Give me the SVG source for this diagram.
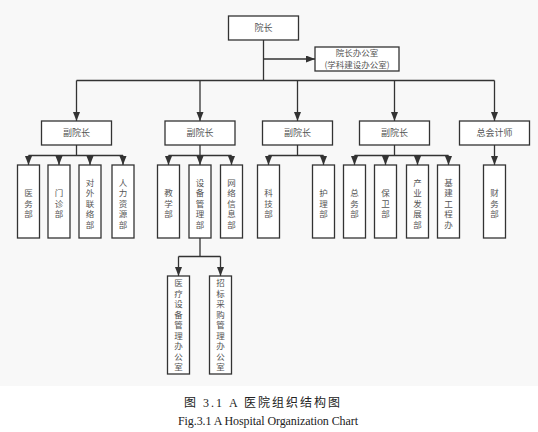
<svg xmlns="http://www.w3.org/2000/svg" width="538" height="432" viewBox="0 0 538 432">
<style>
.box{fill:#fff;stroke:#333;stroke-width:1.3}
.conn{fill:none;stroke:#333;stroke-width:1.3}
.lbl{font-family:"Noto Sans CJK SC","Noto Sans",sans-serif;font-size:9px;fill:#555;text-anchor:middle}
.v{font-size:8.5px}
.sm{font-size:8.5px}
.cap{font-family:"Liberation Serif","Noto Sans CJK SC",serif;font-size:12px;fill:#222;text-anchor:middle}
</style>
<defs>
<marker id="arr" markerUnits="userSpaceOnUse" markerWidth="9" markerHeight="8" refX="9" refY="3.5" orient="auto">
<path d="M0,0 L9,3.5 L0,7 z" fill="#333"/>
</marker>
</defs>
<rect x="0" y="0" width="538" height="386" fill="#f8f8f8"/>

<g id="connectors" class="conn">
<path d="M263.5,40 V80.5"/>
<path d="M263.5,59 H315" marker-end="url(#arr)"/>
<path d="M76.5,80.5 H494.5"/>
<path d="M76.5,80.5 V121" marker-end="url(#arr)"/>
<path d="M200,80.5 V121" marker-end="url(#arr)"/>
<path d="M297.5,80.5 V121" marker-end="url(#arr)"/>
<path d="M394.5,80.5 V121" marker-end="url(#arr)"/>
<path d="M494.5,80.5 V121" marker-end="url(#arr)"/>

<path d="M76.5,145 V155.5 M28.5,155.5 H123"/>
<path d="M28.5,155.5 V165" marker-end="url(#arr)"/>
<path d="M59,155.5 V165" marker-end="url(#arr)"/>
<path d="M90,155.5 V165" marker-end="url(#arr)"/>
<path d="M123,155.5 V165" marker-end="url(#arr)"/>

<path d="M200,145 V155.5 M168.5,155.5 H231.5"/>
<path d="M168.5,155.5 V165" marker-end="url(#arr)"/>
<path d="M200,155.5 V165" marker-end="url(#arr)"/>
<path d="M231.5,155.5 V165" marker-end="url(#arr)"/>

<path d="M297.5,145 V155.5 M268.5,155.5 H323.5"/>
<path d="M268.5,155.5 V165" marker-end="url(#arr)"/>
<path d="M323.5,155.5 V165" marker-end="url(#arr)"/>

<path d="M394.5,145 V155.5 M354.5,155.5 H448.5"/>
<path d="M354.5,155.5 V165" marker-end="url(#arr)"/>
<path d="M385.5,155.5 V165" marker-end="url(#arr)"/>
<path d="M417.5,155.5 V165" marker-end="url(#arr)"/>
<path d="M448.5,155.5 V165" marker-end="url(#arr)"/>

<path d="M494.5,145 V165" marker-end="url(#arr)"/>

<path d="M200,238 V256.5 M178.5,256.5 H220.5"/>
<path d="M178.5,256.5 V276" marker-end="url(#arr)"/>
<path d="M220.5,256.5 V276" marker-end="url(#arr)"/>
</g>

<g id="president"><rect class="box" x="228.5" y="16" width="70" height="24"/><text class="lbl" x="263.5" y="31.3">院长</text></g>
<g id="office"><rect class="box" x="315" y="47" width="84" height="24"/><text class="lbl sm" x="357" y="56">院长办公室</text><text class="lbl sm" x="357" y="67.5">(学科建设办公室)</text></g>

<g id="vp1"><rect class="box" x="41.5" y="121" width="70" height="24"/><text class="lbl" x="76.5" y="136.3">副院长</text></g>
<g id="vp2"><rect class="box" x="165" y="121" width="70" height="24"/><text class="lbl" x="200" y="136.3">副院长</text></g>
<g id="vp3"><rect class="box" x="262.5" y="121" width="70" height="24"/><text class="lbl" x="297.5" y="136.3">副院长</text></g>
<g id="vp4"><rect class="box" x="359.5" y="121" width="70" height="24"/><text class="lbl" x="394.5" y="136.3">副院长</text></g>
<g id="cfo"><rect class="box" x="459.5" y="121" width="70" height="24"/><text class="lbl" x="494.5" y="136.3">总会计师</text></g>

<g id="d1"><rect class="box" x="17.5" y="165" width="22" height="73"/><text class="lbl v" x="28.5" y="196"><tspan x="28.5">医</tspan><tspan x="28.5" dy="10.5">务</tspan><tspan x="28.5" dy="10.5">部</tspan></text></g>
<g id="d2"><rect class="box" x="48" y="165" width="22" height="73"/><text class="lbl v" x="59" y="196"><tspan x="59">门</tspan><tspan x="59" dy="10.5">诊</tspan><tspan x="59" dy="10.5">部</tspan></text></g>
<g id="d3"><rect class="box" x="79" y="165" width="22" height="73"/><text class="lbl v" x="90" y="185.5"><tspan x="90">对</tspan><tspan x="90" dy="10.5">外</tspan><tspan x="90" dy="10.5">联</tspan><tspan x="90" dy="10.5">络</tspan><tspan x="90" dy="10.5">部</tspan></text></g>
<g id="d4"><rect class="box" x="112" y="165" width="22" height="73"/><text class="lbl v" x="123" y="185.5"><tspan x="123">人</tspan><tspan x="123" dy="10.5">力</tspan><tspan x="123" dy="10.5">资</tspan><tspan x="123" dy="10.5">源</tspan><tspan x="123" dy="10.5">部</tspan></text></g>

<g id="d5"><rect class="box" x="157.5" y="165" width="22" height="73"/><text class="lbl v" x="168.5" y="196"><tspan x="168.5">教</tspan><tspan x="168.5" dy="10.5">学</tspan><tspan x="168.5" dy="10.5">部</tspan></text></g>
<g id="d6"><rect class="box" x="189" y="165" width="22" height="73"/><text class="lbl v" x="200" y="185.5"><tspan x="200">设</tspan><tspan x="200" dy="10.5">备</tspan><tspan x="200" dy="10.5">管</tspan><tspan x="200" dy="10.5">理</tspan><tspan x="200" dy="10.5">部</tspan></text></g>
<g id="d7"><rect class="box" x="220.5" y="165" width="22" height="73"/><text class="lbl v" x="231.5" y="185.5"><tspan x="231.5">网</tspan><tspan x="231.5" dy="10.5">络</tspan><tspan x="231.5" dy="10.5">信</tspan><tspan x="231.5" dy="10.5">息</tspan><tspan x="231.5" dy="10.5">部</tspan></text></g>

<g id="d8"><rect class="box" x="257.5" y="165" width="22" height="73"/><text class="lbl v" x="268.5" y="196"><tspan x="268.5">科</tspan><tspan x="268.5" dy="10.5">技</tspan><tspan x="268.5" dy="10.5">部</tspan></text></g>
<g id="d9"><rect class="box" x="312.5" y="165" width="22" height="73"/><text class="lbl v" x="323.5" y="196"><tspan x="323.5">护</tspan><tspan x="323.5" dy="10.5">理</tspan><tspan x="323.5" dy="10.5">部</tspan></text></g>

<g id="d10"><rect class="box" x="343.5" y="165" width="22" height="73"/><text class="lbl v" x="354.5" y="196"><tspan x="354.5">总</tspan><tspan x="354.5" dy="10.5">务</tspan><tspan x="354.5" dy="10.5">部</tspan></text></g>
<g id="d11"><rect class="box" x="374.5" y="165" width="22" height="73"/><text class="lbl v" x="385.5" y="196"><tspan x="385.5">保</tspan><tspan x="385.5" dy="10.5">卫</tspan><tspan x="385.5" dy="10.5">部</tspan></text></g>
<g id="d12"><rect class="box" x="406.5" y="165" width="22" height="73"/><text class="lbl v" x="417.5" y="185.5"><tspan x="417.5">产</tspan><tspan x="417.5" dy="10.5">业</tspan><tspan x="417.5" dy="10.5">发</tspan><tspan x="417.5" dy="10.5">展</tspan><tspan x="417.5" dy="10.5">部</tspan></text></g>
<g id="d13"><rect class="box" x="437.5" y="165" width="22" height="73"/><text class="lbl v" x="448.5" y="185.5"><tspan x="448.5">基</tspan><tspan x="448.5" dy="10.5">建</tspan><tspan x="448.5" dy="10.5">工</tspan><tspan x="448.5" dy="10.5">程</tspan><tspan x="448.5" dy="10.5">办</tspan></text></g>

<g id="d14"><rect class="box" x="483.5" y="165" width="22" height="73"/><text class="lbl v" x="494.5" y="196"><tspan x="494.5">财</tspan><tspan x="494.5" dy="10.5">务</tspan><tspan x="494.5" dy="10.5">部</tspan></text></g>

<g id="g1"><rect class="box" x="167.5" y="276" width="22" height="98"/><text class="lbl v" x="178.5" y="286"><tspan x="178.5">医</tspan><tspan x="178.5" dy="10.5">疗</tspan><tspan x="178.5" dy="10.5">设</tspan><tspan x="178.5" dy="10.5">备</tspan><tspan x="178.5" dy="10.5">管</tspan><tspan x="178.5" dy="10.5">理</tspan><tspan x="178.5" dy="10.5">办</tspan><tspan x="178.5" dy="10.5">公</tspan><tspan x="178.5" dy="10.5">室</tspan></text></g>
<g id="g2"><rect class="box" x="209.5" y="276" width="22" height="98"/><text class="lbl v" x="220.5" y="286"><tspan x="220.5">招</tspan><tspan x="220.5" dy="10.5">标</tspan><tspan x="220.5" dy="10.5">采</tspan><tspan x="220.5" dy="10.5">购</tspan><tspan x="220.5" dy="10.5">管</tspan><tspan x="220.5" dy="10.5">理</tspan><tspan x="220.5" dy="10.5">办</tspan><tspan x="220.5" dy="10.5">公</tspan><tspan x="220.5" dy="10.5">室</tspan></text></g>

<text class="cap" x="263" y="407" style="letter-spacing:2px">图  3.1 A  医院组织结构图</text>
<text class="cap" x="268" y="425" textLength="180" lengthAdjust="spacing">Fig.3.1 A Hospital Organization Chart</text>
</svg>
